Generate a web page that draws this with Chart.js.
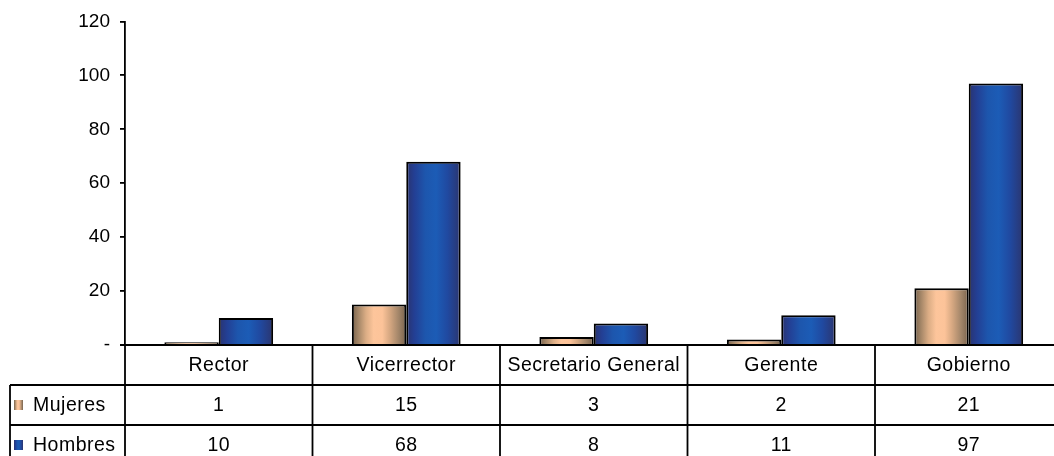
<!DOCTYPE html>
<html>
<head>
<meta charset="utf-8">
<script src="https://cdn.jsdelivr.net/npm/chart.js@4"></script>
<style>
  html, body { margin: 0; padding: 0; background: #fff; overflow: hidden; }
  #wrap { width: 1066px; height: 456px; }
</style>
</head>
<body>
<div id="wrap"><canvas id="chart" width="1066" height="456"></canvas></div>
<script>
// data
const categories = ['Rector', 'Vicerrector', 'Secretario General', 'Gerente', 'Gobierno'];
const seriesNames = ['Mujeres', 'Hombres'];
const mujeres = [1, 15, 3, 2, 21];
const hombres = [10, 68, 8, 11, 97];
const yMax = 120;
const yStep = 20;

const FONT = '"Liberation Sans", Arial, sans-serif';
const CAT_PCT = 0.58;

// horizontal "cylinder" shading like the old Excel fill
const stopsOrange = [[0, '#78624c'], [0.12, '#a48667'], [0.26, '#dbad85'], [0.4, '#fdc59b'],
                     [0.56, '#fcc399'], [0.7, '#d5a781'], [0.86, '#a28569'], [1, '#78624c']];
const stopsBlue = [[0, '#2a336e'], [0.15, '#233f94'], [0.35, '#1d56ad'], [0.55, '#1c5cb6'],
                   [0.76, '#2049a0'], [1, '#2b356f']];

function makeGrad(ctx, x0, x1, stops) {
    var g = ctx.createLinearGradient(x0, 0, x1, 0);
    stops.forEach(function(s) { g.addColorStop(s[0], s[1]); });
    return g;
}

function barFill(stops, dsIndex) {
    return function(context) {
        const chart = context.chart;
        const xs = chart.scales.x;
        if (!chart.chartArea || !xs || context.dataIndex === undefined) return stops[3][1];
        const catW = xs.width / categories.length;
        const barW = catW * CAT_PCT / 2;
        const c = xs.getPixelForValue(context.dataIndex);
        const left = dsIndex === 0 ? c - barW : c;
        return makeGrad(chart.ctx, left, left + barW, stops);
    };
}

const tablePlugin = {
    id: 'dataTable',
    afterDraw(chart) {
        const ctx = chart.ctx;
        const xs = chart.scales.x;
        const area = chart.chartArea;
        const catW = xs.width / categories.length;
        const top = area.bottom;
        const rowH = 40;
        const legendLeft = 10;
        const rows = [mujeres, hombres];
        const stops = [stopsOrange, stopsBlue];

        ctx.save();
        ctx.strokeStyle = '#000';
        ctx.lineWidth = 1.8;
        ctx.beginPath();
        // horizontal lines
        ctx.moveTo(area.left - 5, top); ctx.lineTo(chart.width, top);
        for (var r = 1; r <= 2; r++) {
            ctx.moveTo(legendLeft, top + r * rowH); ctx.lineTo(chart.width, top + r * rowH);
        }
        // vertical lines
        ctx.moveTo(legendLeft, top + rowH); ctx.lineTo(legendLeft, chart.height);
        for (var i = 0; i <= categories.length; i++) {
            var x = area.left + i * catW;
            ctx.moveTo(x, top); ctx.lineTo(x, chart.height);
        }
        ctx.stroke();

        ctx.fillStyle = '#000';
        ctx.font = '19.5px ' + FONT;
        if ('letterSpacing' in ctx) ctx.letterSpacing = '0.5px';
        ctx.textAlign = 'center';
        ctx.textBaseline = 'middle';
        categories.forEach(function(cat, i) {
            var cx = xs.getPixelForValue(i);
            ctx.fillText(cat, cx, top + rowH / 2 + 1);
            rows.forEach(function(vals, r) {
                ctx.fillText(String(vals[i]), cx, top + rowH * (r + 1) + rowH / 2 + 1);
            });
        });

        ctx.textAlign = 'left';
        seriesNames.forEach(function(name, r) {
            var cy = top + rowH * (r + 1) + rowH / 2;
            ctx.fillStyle = makeGrad(ctx, 14, 23, stops[r]);
            ctx.fillRect(14, cy - 5, 9, 10);
            ctx.fillStyle = '#000';
            ctx.fillText(name, 33, cy + 1);
        });
        ctx.restore();
    }
};

new Chart(document.getElementById('chart'), {
    type: 'bar',
    data: {
        labels: categories,
        datasets: [
            { label: seriesNames[0], data: mujeres, backgroundColor: barFill(stopsOrange, 0),
              borderColor: '#000', borderWidth: 2 },
            { label: seriesNames[1], data: hombres, backgroundColor: barFill(stopsBlue, 1),
              borderColor: '#000', borderWidth: 2 }
        ]
    },
    options: {
        responsive: false,
        animation: false,
        devicePixelRatio: 1,
        layout: { padding: { left: 0, right: 3.5, top: 21, bottom: 111 } },
        datasets: { bar: { categoryPercentage: CAT_PCT, barPercentage: 1.0 } },
        plugins: { legend: { display: false }, tooltip: { enabled: false } },
        scales: {
            x: { display: false },
            y: {
                min: 0,
                max: yMax,
                ticks: {
                    stepSize: yStep,
                    padding: 10,
                    color: '#000',
                    font: { family: FONT, size: 19 },
                    callback: function(v) { return v === 0 ? '-' : v; }
                },
                grid: { drawOnChartArea: false, drawTicks: true, tickLength: 5, color: '#000', lineWidth: 1.8 },
                border: { display: true, color: '#000', width: 1.8 },
                afterFit: function(scale) { scale.width = 125; }
            }
        }
    },
    plugins: [tablePlugin]
});
</script>
</body>
</html>
